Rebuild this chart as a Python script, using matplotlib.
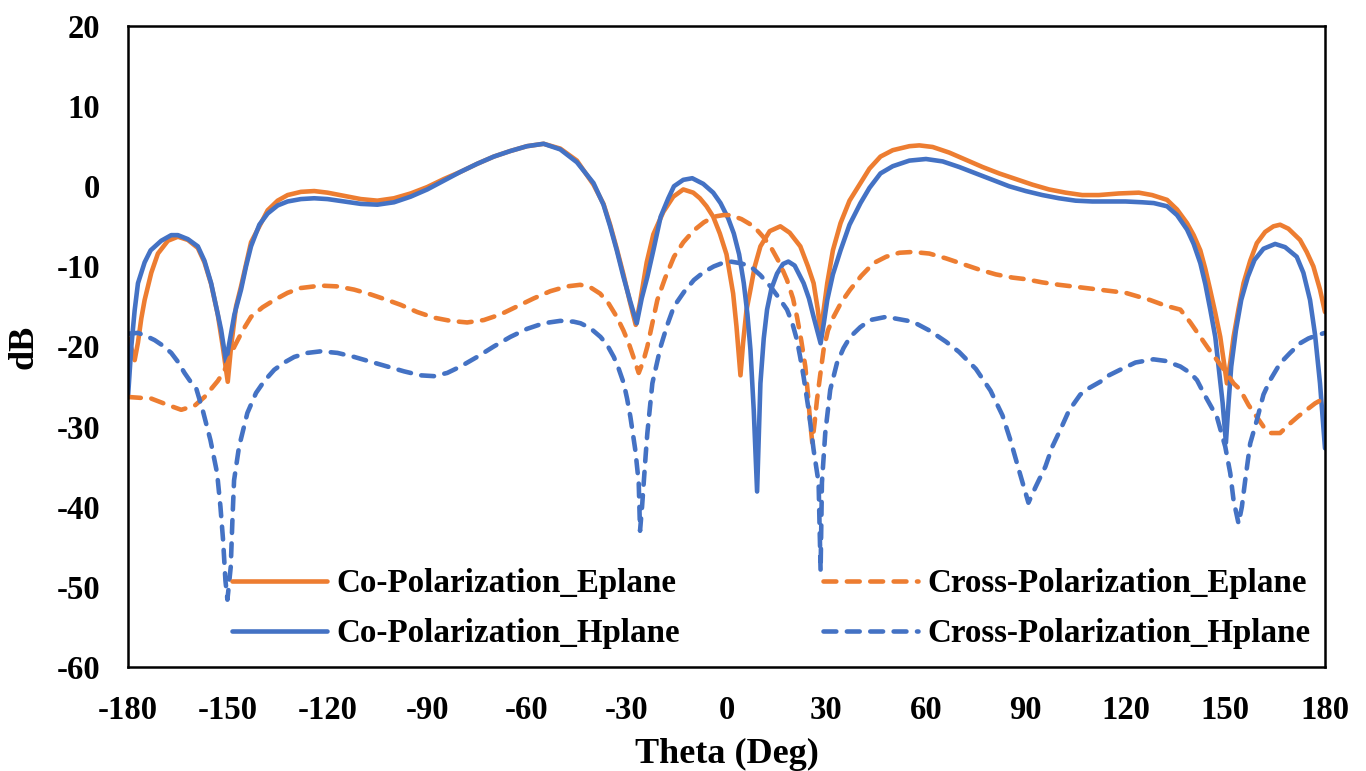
import numpy as np
import matplotlib
matplotlib.use("Agg")
from matplotlib import pyplot as plt

# Co-polarization, E plane (orange solid)
theta_co_e = [-180, -179, -178, -177, -176, -175, -173, -171, -168, -165, -162, -159, -157, -155, -153,
              -151.5, -150, -149, -147.5, -146, -143, -140, -138, -135, -132, -128, -124, -120, -115,
              -110, -105, -100, -95, -90, -85, -80, -75, -70, -65, -60, -55, -50, -45, -40, -37, -35,
              -33, -31, -29, -27.3, -26, -24, -22, -19, -16, -13, -10, -8, -6, -4, -2, 0, 2, 3, 4.2,
              5, 6, 7.2, 8.5, 10.2, 13, 16.2, 19, 22.2, 24.5, 26.2, 27.5, 28.3, 29.2, 30.3, 32, 34.3,
              37, 40.3, 43, 46.3, 50, 55, 58, 62, 67, 72, 77, 82, 87, 92, 97, 102, 107, 112, 118, 124,
              128, 132.5, 135.5, 138.5, 140.5, 142.5, 144, 145.5, 147, 148.5, 150.5, 151.5, 152.5, 154,
              155.5, 157.5, 159.5, 162, 164.5, 166.5, 169, 172.5, 174.5, 176.5, 178.5, 180]
db_co_e = [-19.0, -20.2, -21.7, -19.5, -16.5, -14.2, -10.8, -8.4, -6.8, -6.3, -6.7, -7.7, -9.5, -12.2, -16.0,
           -20.0, -24.4, -20.0, -15.0, -12.5, -7.0, -4.6, -3.0, -1.8, -1.1, -0.7, -0.6, -0.8, -1.2,
           -1.6, -1.8, -1.5, -0.9, -0.1, 0.9, 1.8, 2.8, 3.7, 4.4, 5.0, 5.3, 4.7, 3.2, 0.2, -2.2, -4.8,
           -7.8, -11.0, -14.5, -17.3, -14.5, -9.5, -6.0, -3.2, -1.3, -0.4, -0.8, -1.5, -2.5, -3.8, -5.9,
           -8.5, -13.4, -17.5, -23.6, -19.5, -15.5, -12.9, -10.0, -7.5, -5.6, -5.0, -5.8, -7.5, -10.0,
           -12.1, -15.5, -18.5, -15.5, -12.1, -8.0, -4.6, -1.8, 0.4, 2.2, 3.7, 4.5, 5.0, 5.1, 4.9, 4.2,
           3.3, 2.4, 1.6, 0.9, 0.2, -0.4, -0.8, -1.1, -1.1, -0.9, -0.8, -1.1, -1.7, -2.9, -4.6, -6.1,
           -8.0, -10.3, -13.0, -15.8, -18.8, -24.6, -22.0, -18.8, -15.3, -12.1, -9.3, -7.1, -5.7, -5.0,
           -4.8, -5.3, -6.7, -8.2, -10.0, -12.9, -15.7]

# Co-polarization, H plane (blue solid)
theta_co_h = [-180, -179, -178, -177, -175, -173.2, -170, -167, -165, -162, -159, -157, -155, -153.5, -152,
              -150.5, -149.5, -148, -146, -144.5, -143, -140.5, -138, -135, -132, -128, -124, -120, -115,
              -110, -105, -100, -95, -90, -85, -80, -75, -70, -65, -60, -55, -50, -45, -40, -37, -35,
              -33, -31, -29, -27, -25.5, -23.8, -22, -19.8, -17.5, -15.8, -13, -10.3, -7, -4, -1.8, 0.5,
              2.2, 3.8, 5.2, 6.3, 7.2, 8.2, 9.2, 10.2, 11.2, 12.2, 13.5, 15.2, 17, 18.6, 20.5, 23.2,
              24.8, 26.2, 28.3, 29.3, 30.3, 32, 34.3, 37, 40.3, 43, 46.3, 50, 55, 60, 65, 70, 75, 80, 85,
              90, 95, 100, 105, 110, 115, 120, 125, 128.5, 132.5, 135.5, 138.5, 140.5, 142.5, 144, 145.5,
              147, 148, 149.2, 150.2, 151, 151.8, 153.2, 154.8, 156.8, 158.8, 161.5, 165, 168, 171.5,
              173.5, 175.5, 177, 178.5, 180]
db_co_h = [-26.3, -20.0, -15.5, -12.1, -9.5, -8.0, -6.8, -6.1, -6.1, -6.6, -7.5, -9.3, -12.1, -15.0, -17.9,
           -21.9, -19.5, -16.0, -12.9, -10.0, -7.5, -4.8, -3.4, -2.4, -1.9, -1.6, -1.5, -1.6, -1.9,
           -2.2, -2.3, -2.0, -1.3, -0.4, 0.7, 1.8, 2.8, 3.7, 4.4, 5.0, 5.3, 4.6, 3.0, 0.4, -2.3, -5.0,
           -8.0, -11.3, -14.3, -17.1, -14.0, -11.3, -8.0, -3.8, -1.5, 0.0, 0.8, 1.0, 0.3, -0.8, -2.1, -4.0,
           -5.9, -8.5, -12.1, -16.0, -20.4, -28.0, -38.1, -24.6, -19.0, -15.4, -12.8, -10.9, -9.7, -9.4,
           -9.9, -12.1, -14.0, -16.3, -19.6, -17.0, -14.2, -11.0, -8.0, -4.8, -2.1, -0.2, 1.6, 2.5, 3.2,
           3.4, 3.1, 2.4, 1.6, 0.8, 0.0, -0.6, -1.1, -1.5, -1.8, -1.9, -1.9, -1.9, -2.0, -2.1, -2.5,
           -3.6, -5.4, -7.2, -9.6, -12.2, -15.4, -18.8, -22.5, -27.0, -32.0, -27.0, -22.5, -18.0, -14.2,
           -11.3, -9.2, -7.8, -7.2, -7.6, -8.8, -10.8, -14.2, -18.5, -24.6, -32.7]

# Cross-polarization, E plane (orange dashed)
theta_x_e = [-180, -173, -168, -164, -160, -157, -155, -153, -151, -148, -145.5, -143, -139.5, -136, -132,
             -128, -122, -117, -112, -107, -102, -98, -93, -88, -83, -78, -73, -68, -63, -58, -53, -48,
             -44, -41, -38, -35.5, -33, -31, -29.4, -28, -26.4, -25, -23.8, -22.3, -20.8, -18.5, -15.8,
             -13, -9.8, -6.8, -3.8, -1, 1.2, 4.5, 8.2, 11, 13.2, 16, 18.2, 20, 21.2, 22.5, 23.7, 24.5,
             25.2, 25.8, 26.5, 27.2, 28.2, 29.2, 30.5, 32.2, 34.5, 37.2, 40.5, 44.2, 48, 52, 56, 61, 66,
             71, 76, 81, 86, 90, 95, 100, 106, 112, 120, 127.4, 132, 136.5, 139.5, 142.5, 145, 147.5, 150,
             152.5, 154.5, 157, 159.5, 161.5, 163.5, 166.5, 169.5, 172, 174.5, 177, 180]
db_x_e = [-26.3, -26.5, -27.3, -27.9, -27.4, -26.3, -25.3, -24.3, -23.0, -20.0, -18.0, -16.3, -15.1, -14.2, -13.3,
          -12.7, -12.4, -12.5, -12.9, -13.5, -14.2, -14.8, -15.7, -16.4, -16.8, -17.0, -16.7, -16.0, -15.0,
          -14.0, -13.1, -12.5, -12.3, -12.6, -13.4, -14.6, -16.3, -18.0, -19.6, -21.3, -23.3, -21.8, -20.0,
          -17.1, -14.2, -11.5, -8.8, -7.0, -5.5, -4.5, -3.8, -3.6, -3.6, -4.1, -5.0, -6.3, -7.5, -9.6,
          -11.7, -14.0, -16.3, -19.3, -22.5, -26.0, -29.6, -32.0, -29.5, -26.7, -23.5, -20.4, -18.0, -16.3,
          -14.5, -12.9, -11.2, -9.6, -8.8, -8.3, -8.2, -8.4, -9.0, -9.7, -10.4, -11.0, -11.4, -11.6, -12.0,
          -12.3, -12.6, -12.9, -13.3, -14.2, -14.9, -15.4, -17.0, -18.8, -20.3, -21.7, -23.1, -24.6, -25.4,
          -27.3, -28.8, -30.0, -30.8, -30.8, -29.6, -28.7, -27.9, -27.1, -26.4]

# Cross-polarization, H plane (blue dashed)
theta_x_h = [-180, -177, -174.5, -172, -169.5, -167, -165, -163, -161, -159.5, -157.5, -155.2, -153.2, -152.2,
             -151.4, -150.7, -150.1, -149.1, -148.6, -148.1, -146.6, -144.1, -141.5, -139, -136, -133, -130,
             -126, -122, -117, -112, -107, -102, -97, -92, -88, -84, -80, -75, -70, -65, -60, -55, -50, -46,
             -43.9, -41, -37.9, -35.9, -33.9, -32.4, -30.9, -29.9, -28.9, -28.1, -27.4, -26.9, -26.4, -26.0,
             -25.4, -24.9, -24.3, -23.8, -23, -22.3, -21, -19.8, -17.8, -15.8, -12.8, -9.8, -6.8, -3.8, -1.3,
             1.2, 4.2, 7.2, 10.2, 13.2, 15.7, 18.2, 19.8, 21.2, 22.2, 23.2, 24.7, 26.2, 27.7, 28.3, 28.7,
             29.7, 31.2, 33.2, 35.2, 37.2, 40.2, 43.2, 48, 52, 56, 61, 66, 70, 75, 79.4, 83, 85.4, 88, 90.8,
             93, 95.9, 98, 100.4, 103, 106.4, 109, 112.4, 115, 118.4, 123, 128.4, 132, 136.5, 139.5, 141.5,
             144, 147.5, 150, 151.5, 152.5, 154, 155, 156, 157.5, 159.5, 161.5, 163.5, 166.5, 169.5, 172.5,
             175, 177.5, 180]
db_x_h = [-18.4, -18.3, -18.7, -19.2, -19.9, -20.8, -21.9, -23.3, -24.5, -25.2, -28.0, -31.7, -35.8, -40.0,
          -44.2, -49.2, -51.6, -47.5, -41.7, -36.7, -32.5, -28.3, -25.8, -24.3, -22.9, -22.0, -21.3,
          -20.8, -20.6, -20.8, -21.3, -21.9, -22.5, -23.1, -23.6, -23.7, -23.3, -22.5, -21.3, -20.0, -18.8,
          -17.8, -17.1, -16.8, -16.9, -17.1, -17.7, -18.8, -19.8, -21.3, -22.8, -24.6, -26.5, -28.8, -31.0,
          -33.0, -35.0, -37.0, -43.0, -40.0, -37.0, -33.5, -30.8, -27.5, -24.6, -22.2, -20.0, -17.3, -15.0,
          -13.2, -11.7, -10.7, -10.0, -9.6, -9.4, -9.6, -10.0, -11.1, -12.5, -13.9, -15.4, -17.1, -19.2,
          -21.4, -23.8, -27.9, -32.9, -37.0, -48.0, -37.0, -30.8, -25.4, -22.1, -20.2, -18.8, -17.6, -16.7,
          -16.3, -16.6, -16.9, -18.0, -19.4, -20.7, -22.8, -25.5, -28.6, -31.7, -35.5, -39.5, -37.5, -35.0,
          -32.5, -30.4, -28.0, -26.0, -25.2, -24.4, -23.6, -22.9, -22.0, -21.6, -21.8, -22.5, -23.3, -24.2,
          -26.2, -28.8, -32.5, -35.8, -39.2, -42.1, -40.0, -36.7, -32.1, -29.2, -26.0, -24.2, -22.1, -20.8,
          -19.6, -19.0, -18.6, -18.3]

x_ticks = list(range(-180, 181, 30))
y_ticks = list(range(-60, 21, 10))

orange = "#ED7D31"
blue = "#4472C4"

plt.rcParams['font.family'] = ['Liberation Serif', 'DejaVu Serif']
plt.rcParams['font.weight'] = 'bold'
plt.rcParams['axes.unicode_minus'] = False

fig = plt.figure(figsize=(13.66, 7.71), dpi=100)
ax = fig.add_axes([128/1366, 104/771, 1197/1366, 641/771])

lw = 3.3
dash = (2.8, 2.3)
ax.plot(theta_co_e, db_co_e, color=orange, lw=lw, solid_capstyle='round',
        label="Co-Polarization_Eplane")
ax.plot(theta_co_h, db_co_h, color=blue, lw=lw, solid_capstyle='round',
        label="Co-Polarization_Hplane")
ax.plot(theta_x_e, db_x_e, color=orange, lw=lw, dashes=dash, dash_capstyle='round',
        label="Cross-Polarization_Eplane")
ax.plot(theta_x_h, db_x_h, color=blue, lw=lw, dashes=dash, dash_capstyle='round',
        label="Cross-Polarization_Hplane")

ax.set_xlim(-180, 180)
ax.set_ylim(-60, 20)
ax.set_xticks(x_ticks)
ax.set_yticks(y_ticks)
ax.tick_params(length=0, labelsize=23.5)
ax.tick_params(axis='x', pad=20)
ax.tick_params(axis='y', pad=20)
for s in ax.spines.values():
    s.set_linewidth(1.8)
    s.set_color('black')

ax.set_xlabel("Theta (Deg)", fontsize=26, fontweight='bold')
ax.set_ylabel("dB", fontsize=26, fontweight='bold')
ax.xaxis.set_label_coords(0.5, -0.111)
ax.yaxis.set_label_coords(-0.0727, 0.5)

leg = ax.legend(ncol=2, loc='upper left', bbox_to_anchor=(0.0869, 0.154), frameon=False,
                fontsize=23.8, handlelength=2.88, handletextpad=0.27, columnspacing=4.33,
                labelspacing=0.58, borderpad=0, borderaxespad=0)

fig.savefig("out.png", dpi=100)
